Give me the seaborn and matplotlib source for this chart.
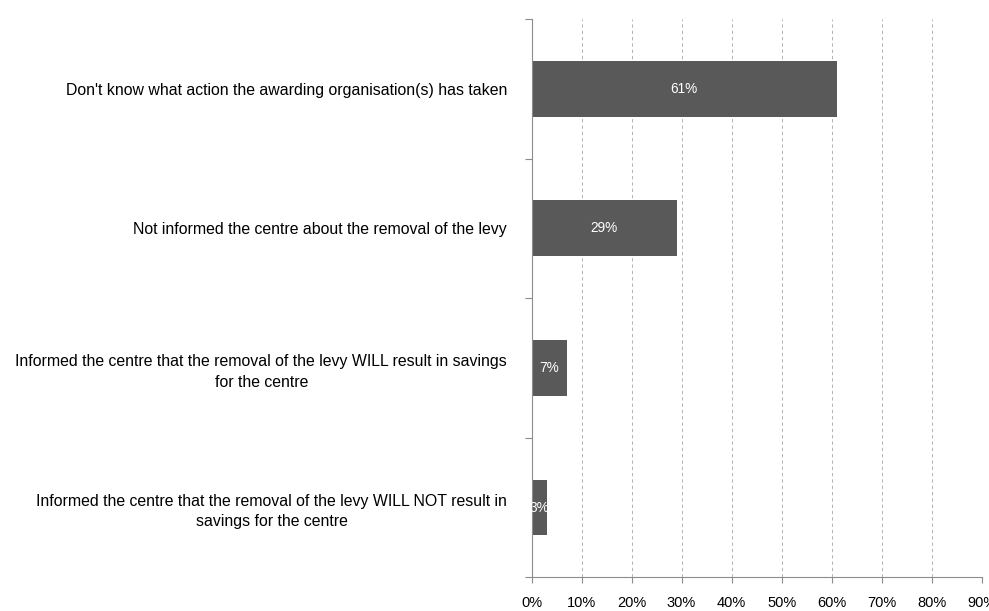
import matplotlib
matplotlib.use("Agg")
import matplotlib.pyplot as plt
from matplotlib.ticker import FixedLocator, PercentFormatter
import seaborn as sns
import pandas as pd

categories = [
    "Don't know what action the awarding organisation(s) has taken",
    "Not informed the centre about the removal of the levy",
    "Informed the centre that the removal of the levy WILL result in savings\nfor the centre",
    "Informed the centre that the removal of the levy WILL NOT result in\nsavings for the centre",
]
shares = [61, 29, 7, 3]
x_ticks = [0, 10, 20, 30, 40, 50, 60, 70, 80, 90]

df = pd.DataFrame({"category": categories, "share": shares})

sns.set_theme(style="white")
plt.rcParams["font.family"] = ["Liberation Sans", "DejaVu Sans"]

fig = plt.figure(figsize=(9.89, 6.11), dpi=100)
ax = fig.add_axes([531.5 / 989, 1 - 577.3 / 611, (981.7 - 531.5) / 989, (577.3 - 19) / 611])

sns.barplot(data=df, x="share", y="category", orient="h", color="#595959",
            width=0.4, saturation=1, linewidth=0, ax=ax)

ax.set_xlim(0, 90)
ax.set_ylim(len(categories) - 0.5, -0.5)
ax.set_xlabel("")
ax.set_ylabel("")

# dashed vertical gridlines at each 10%
ax.set_xticks(x_ticks)
ax.xaxis.set_major_formatter(PercentFormatter(decimals=0))
ax.grid(axis="x", color="#b3b3b3", linestyle=(0, (3.5, 3)), linewidth=0.7)
ax.grid(axis="y", visible=False)
ax.set_axisbelow(True)

# category labels centred between boundary ticks
ax.yaxis.set_minor_locator(FixedLocator([i - 0.5 for i in range(len(categories) + 1)]))
ax.tick_params(axis="y", which="major", length=0, pad=17.5, labelsize=11.4, labelcolor="black")
ax.tick_params(axis="y", which="minor", length=5, color="#8c8c8c", width=0.8, left=True)
ax.tick_params(axis="x", which="major", length=4, color="#8c8c8c", width=0.8, bottom=True,
               pad=9.5, labelsize=10.5, labelcolor="black")
for lab in ax.get_yticklabels():
    lab.set_multialignment("center")
    lab.set_linespacing(1.45)

for side in ("top", "right"):
    ax.spines[side].set_visible(False)
for side in ("left", "bottom"):
    ax.spines[side].set_color("#8c8c8c")
    ax.spines[side].set_linewidth(0.8)

for cont in ax.containers:
    ax.bar_label(cont, labels=[f"{v}%" for v in shares], label_type="center",
                 color="white", fontsize=9.8)

fig.savefig("out.png", dpi=100)
